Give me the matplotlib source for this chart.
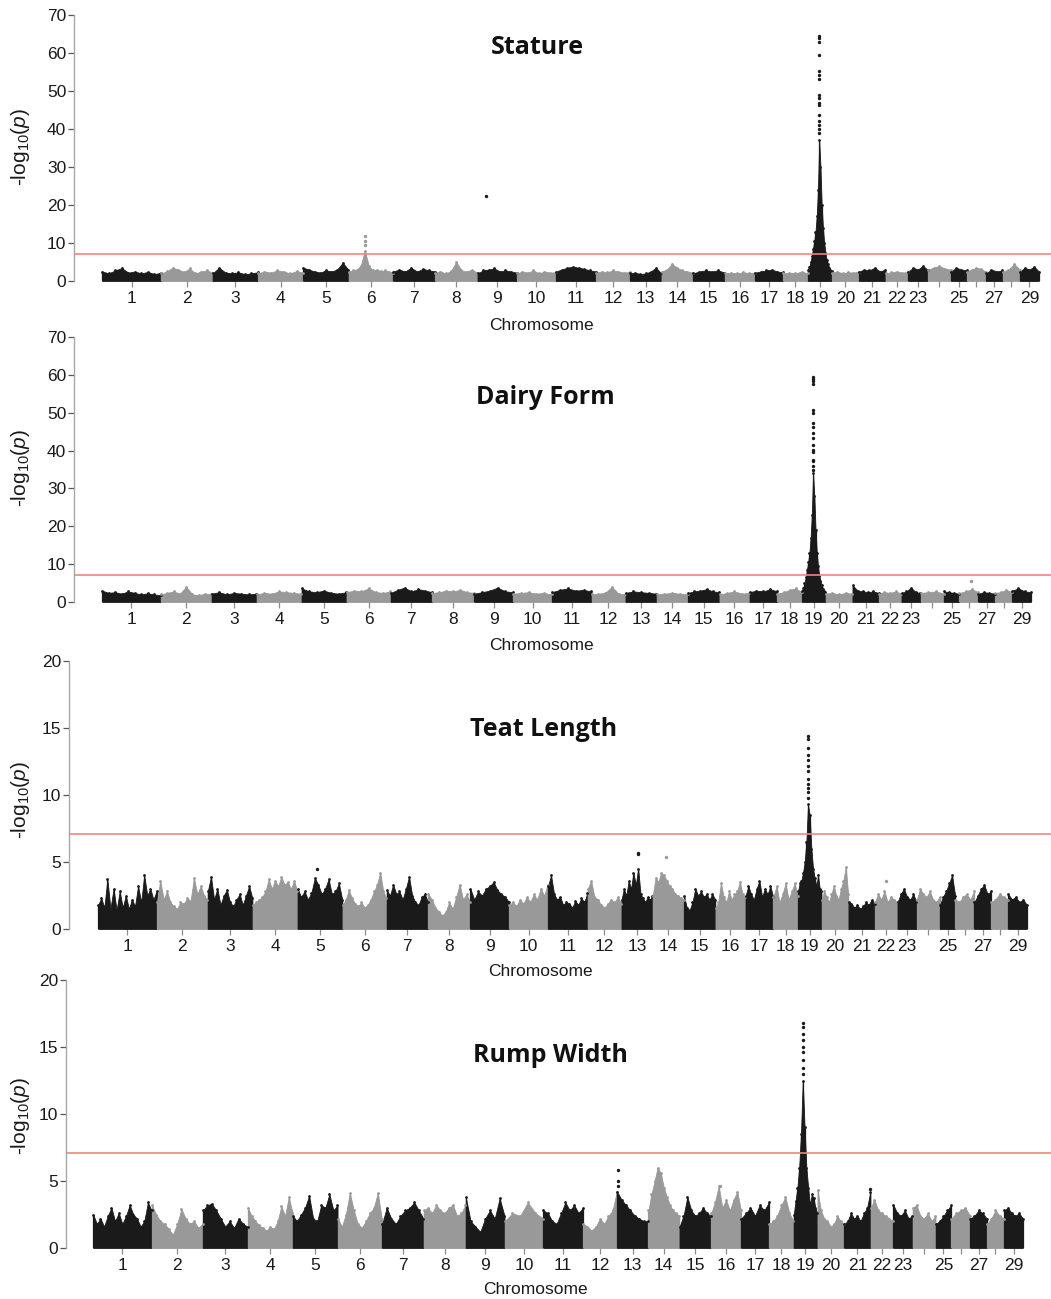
#!/usr/bin/env python3
"""Manhattan plots for four conformation traits (Stature, Dairy Form, Teat Length, Rump Width)."""

import matplotlib

matplotlib.use("Agg")
import matplotlib.pyplot as plt
import numpy as np

W, H = 1051, 1299
BLACK = "#1a1a1a"
GRAY = "#999999"
RED = "#F0857D"
SPINE = "#a8a8a8"

CHROMS = list(range(1, 30))
# chromosome lengths in Mb (UMD3.1)
CHROM_LEN = [158, 137, 121, 121, 121, 119, 112, 113, 105, 104, 107, 91, 84, 84, 85,
             81, 75, 66, 64, 72, 71, 61, 52, 62, 42, 51, 45, 46, 51]
HIDDEN_LABELS = {24, 26, 28}
THRESHOLD = 7.08

# upper envelope of -log10(p) along each chromosome, read left to right
STATURE = [
    [2.5, 2.0, 2.8, 3.4, 2.2, 2.5, 2.0, 2.4, 1.8, 2.2],
    [2.0, 2.6, 3.5, 3.0, 2.4, 3.3, 2.0, 2.5, 2.8, 2.2],
    [2.0, 3.5, 2.2, 2.0, 2.3, 1.8, 2.0, 2.3],
    [2.0, 2.5, 2.2, 2.8, 2.5, 2.0, 2.6, 2.2],
    [3.5, 3.0, 2.5, 2.2, 2.8, 2.5, 3.0, 4.8, 3.0],
    [2.5, 2.8, 3.0, 4.0, 8.0, 4.0, 2.8, 3.0, 2.6, 2.8, 2.5, 2.2],
    [2.5, 3.0, 2.5, 3.5, 2.5, 3.2, 2.8, 2.5],
    [2.2, 2.5, 2.0, 2.6, 5.0, 2.8, 2.5, 3.0, 2.2],
    [2.0, 2.8, 3.0, 3.3, 2.5, 2.8, 2.5, 2.2],
    [2.0, 2.5, 2.2, 2.8, 2.0, 2.5, 2.2, 2.3],
    [2.5, 3.0, 3.5, 3.8, 3.5, 3.2, 2.8, 2.5],
    [2.2, 2.5, 2.3, 2.8, 2.5, 2.2, 2.4],
    [2.0, 2.2, 1.8, 2.0, 2.5, 3.5, 2.0],
    [2.5, 3.0, 4.5, 3.5, 2.8, 2.5, 2.2],
    [2.0, 2.5, 2.8, 2.5, 2.8, 2.2],
    [2.0, 2.2, 2.0, 2.3, 2.1, 2.2],
    [2.2, 2.5, 2.8, 3.0, 2.5, 2.3],
    [2.0, 2.2, 2.0, 2.5, 2.0],
    [3.0, 3.8, 5.0, 6.5, 8.5, 10.5, 13.0, 17.0, 24.0, 37.0, 30.0, 20.0, 14.0, 10.0, 7.5, 5.5,
     4.5, 3.5, 3.0, 2.6],
    [2.2, 2.5, 2.0, 2.3, 2.2, 2.5],
    [2.5, 3.0, 2.8, 3.5, 2.5, 3.0],
    [2.0, 2.3, 2.5, 2.2, 2.4],
    [2.5, 3.5, 3.0, 4.0, 3.0],
    [3.0, 3.5, 4.0, 3.2, 3.0],
    [2.5, 3.5, 3.0, 2.8],
    [2.5, 3.0, 3.5, 3.2, 2.5],
    [2.0, 3.0, 2.5, 2.8],
    [2.5, 3.0, 4.5, 3.0],
    [2.5, 3.5, 3.0, 3.8, 2.5],
]
# isolated SNPs: (chromosome, relative position, -log10 p)
STATURE_HITS = [(6, 0.36, 11.8), (6, 0.36, 10.6), (6, 0.36, 9.6), (9, 0.22, 22.5)] + [
    (19, 0.47, v) for v in [64.5, 64.0, 63.0, 59.5, 55.3, 54.2, 53.1, 49.0, 48.2,
                            46.8, 46.3, 43.7, 42.0, 41.0, 40.0, 39.0]
]

DAIRY_FORM = [
    [3.0, 2.4, 2.6, 2.2, 2.8, 2.4, 2.0, 2.3, 2.0, 1.8],
    [2.0, 2.4, 2.8, 2.2, 4.0, 2.0, 1.8, 2.2, 2.0],
    [2.2, 2.6, 2.0, 2.4, 2.2, 2.0, 2.2],
    [2.0, 2.4, 2.2, 2.8, 2.6, 2.4, 2.2],
    [3.6, 2.8, 2.6, 3.0, 2.4, 2.2, 2.6],
    [2.6, 3.0, 2.8, 3.6, 2.6, 2.4, 2.8],
    [2.4, 3.2, 3.8, 2.8, 3.4, 3.0, 2.6],
    [2.4, 2.6, 3.0, 2.8, 3.2, 2.6, 2.4],
    [2.2, 2.6, 3.0, 3.8, 2.8, 2.6],
    [2.2, 2.4, 2.6, 2.2, 2.4, 2.0],
    [2.6, 3.2, 3.6, 3.0, 3.2, 2.8],
    [2.0, 2.2, 2.4, 4.0, 2.2, 2.0],
    [2.4, 2.8, 2.6, 2.4, 2.2],
    [2.0, 2.2, 2.4, 2.2, 2.0],
    [2.4, 2.8, 3.0, 3.4, 2.8, 2.6],
    [2.0, 2.4, 2.8, 2.2, 2.4],
    [2.6, 3.0, 2.8, 3.4, 2.8],
    [2.2, 2.6, 3.2, 3.6, 2.6],
    [3.0, 3.8, 5.0, 6.5, 8.5, 10.5, 13.0, 17.0, 23.0, 34.0, 28.0, 19.0, 13.0, 9.5, 7.0, 5.5,
     4.5, 3.5, 3.0, 2.6],
    [2.2, 2.4, 2.0, 2.4, 2.2],
    [4.4, 3.0, 2.8, 2.6, 2.8, 2.4],
    [2.2, 2.6, 2.4, 2.8, 2.2],
    [2.4, 2.8, 3.8, 2.6, 2.4],
    [2.4, 2.6, 2.8, 2.2],
    [2.8, 2.6, 2.4, 2.2],
    [2.4, 2.8, 3.4, 2.6],
    [2.2, 2.6, 2.4, 2.2],
    [2.4, 2.6, 3.2, 2.6],
    [3.0, 3.6, 2.8, 2.6],
]
DAIRY_FORM_HITS = [(26, 0.6, 5.5)] + [
    (19, 0.47, v) for v in [59.5, 59.0, 58.4, 57.5, 50.7, 49.9, 47.3, 46.3, 44.6,
                            43.3, 41.5, 40.1, 39.6, 37.5, 37.2, 36.0, 35.0]
]

TEAT_LENGTH = [
    [1.8, 2.3, 1.6, 3.7, 1.5, 3.0, 1.4, 2.8, 1.6, 2.5, 1.5, 2.2, 1.7, 3.2, 2.0, 4.0, 2.5, 3.0, 2.2, 2.8],
    [2.0, 3.6, 2.2, 2.8, 2.0, 1.7, 1.5, 2.0, 1.9, 2.3, 2.1, 3.8, 2.6, 3.2, 2.5, 2.2],
    [2.8, 3.9, 2.2, 3.0, 1.8, 2.5, 2.9, 2.0, 1.7, 2.2, 2.6, 1.8, 2.5, 3.2, 2.3],
    [1.8, 2.0, 2.2, 2.4, 2.8, 3.7, 3.0, 3.6, 3.2, 3.9, 3.3, 3.5, 3.0, 3.6, 2.8],
    [3.0, 2.4, 2.8, 2.2, 2.7, 3.8, 3.3, 2.6, 3.0, 3.7, 2.6, 2.8, 3.4, 2.2],
    [1.8, 2.2, 2.9, 2.3, 1.9, 1.7, 2.0, 1.6, 1.8, 2.2, 2.8, 3.3, 4.2, 2.8, 2.3],
    [2.9, 2.5, 3.3, 2.6, 2.8, 2.2, 3.0, 3.9, 2.5, 2.0, 1.8, 2.4, 2.6, 2.0],
    [2.6, 2.2, 1.6, 1.3, 1.0, 1.3, 2.0, 1.5, 2.4, 3.3, 2.2, 2.6, 2.0],
    [3.0, 2.2, 2.8, 2.5, 3.0, 3.2, 3.5, 2.9, 2.6, 2.4, 2.0],
    [1.8, 2.0, 1.7, 2.2, 1.9, 2.4, 2.0, 2.6, 2.2, 3.0, 2.5, 3.3],
    [3.2, 4.0, 2.6, 2.2, 2.4, 1.8, 2.0, 1.9, 1.6, 2.1, 1.8, 2.3, 2.0, 2.7],
    [3.0, 3.6, 2.4, 2.2, 1.8, 1.6, 1.9, 2.2, 2.0, 2.4, 1.9],
    [2.2, 3.0, 2.5, 3.6, 3.0, 4.2, 3.3, 4.5, 2.6, 2.3, 2.0, 2.4, 2.2, 2.5],
    [2.5, 3.8, 3.5, 4.2, 4.0, 3.6, 3.2, 3.0, 2.6, 2.5, 2.3, 2.2],
    [2.5, 1.6, 1.4, 2.0, 3.0, 2.5, 2.8, 2.4, 2.6, 2.2, 2.6, 2.2],
    [1.6, 2.0, 3.4, 2.4, 2.0, 2.8, 2.2, 2.6, 2.8, 3.5, 2.6, 2.4],
    [2.5, 3.2, 2.6, 2.2, 3.0, 3.6, 2.4, 3.0, 2.6, 3.2, 2.4],
    [2.4, 3.2, 2.0, 2.6, 3.4, 2.2, 2.8, 3.4, 2.5],
    [2.8, 3.4, 3.6, 4.2, 5.0, 6.5, 9.3, 8.5, 6.0, 4.5, 3.8, 3.2, 4.0, 3.0, 2.8],
    [2.2, 2.8, 2.4, 2.0, 2.6, 3.2, 2.5, 2.2, 3.0, 3.6, 4.6, 2.6],
    [2.0, 1.9, 1.6, 1.8, 1.5, 1.7, 2.0, 1.8, 2.2, 1.9],
    [2.0, 2.6, 2.2, 2.8, 2.0, 2.4, 2.2, 2.0],
    [2.0, 2.6, 3.0, 2.4, 2.2, 2.6, 2.0],
    [2.2, 3.0, 2.6, 2.4, 2.8, 2.2, 2.0, 2.4],
    [1.8, 2.4, 2.8, 3.4, 4.0, 2.5],
    [2.2, 2.0, 2.4, 2.6, 2.2, 2.8],
    [2.0, 2.5, 3.0, 3.3, 2.6, 2.8],
    [2.0, 2.2, 2.6, 2.4, 2.2],
    [2.6, 2.2, 2.4, 2.0, 2.2, 1.8],
]
TEAT_LENGTH_HITS = [(5, 0.44, 4.5), (13, 0.52, 5.7), (13, 0.52, 5.6), (14, 0.43, 5.4),
                    (22, 0.5, 3.6)] + [
    (19, 0.43, v) for v in [14.4, 14.2, 13.5, 13.0, 12.6, 12.2, 11.8, 11.2, 10.8, 10.5, 10.2, 9.8]
]

RUMP_WIDTH = [
    [2.5, 1.8, 2.2, 1.6, 2.4, 3.0, 2.0, 2.6, 1.8, 2.4, 3.2, 2.5, 2.2, 1.6, 2.0, 3.4, 2.8],
    [3.2, 2.5, 2.0, 1.8, 1.4, 1.0, 1.8, 2.9, 2.2, 1.8, 2.0, 1.5, 1.8],
    [2.8, 3.2, 3.3, 2.8, 2.2, 1.6, 2.0, 1.5, 2.2, 1.8, 1.6],
    [3.0, 2.4, 2.0, 1.7, 1.5, 1.3, 1.6, 1.4, 2.0, 3.1, 2.4, 3.8, 2.6],
    [2.4, 2.0, 2.5, 3.0, 3.9, 2.2, 2.0, 3.2, 3.0, 4.0, 2.8, 3.2],
    [2.2, 1.6, 2.5, 4.1, 2.8, 1.8, 1.5, 2.0, 2.6, 3.0, 4.1, 2.2],
    [1.8, 3.0, 2.2, 1.8, 2.4, 2.8, 3.0, 3.4, 2.8, 2.2],
    [2.8, 3.0, 2.6, 3.2, 2.8, 2.6, 3.0, 3.2, 2.4, 2.6, 3.2],
    [3.8, 2.0, 1.6, 1.2, 2.2, 2.8, 2.2, 3.7, 2.4],
    [2.0, 2.6, 2.4, 3.4, 2.6, 2.2],
    [2.8, 2.6, 2.0, 1.8, 2.6, 3.4, 2.8, 3.2, 2.6, 3.0],
    [1.8, 1.6, 1.3, 1.6, 2.2, 1.8, 2.4, 2.8, 4.2],
    [4.2, 3.6, 3.2, 2.8, 2.4, 2.2, 2.0, 2.0],
    [2.8, 4.0, 5.0, 6.0, 5.6, 4.5, 3.8, 3.2, 2.8, 2.6, 2.4],
    [1.6, 2.4, 3.8, 2.8, 2.4, 2.6, 3.0, 2.6, 2.4],
    [2.6, 3.4, 4.6, 3.0, 3.6, 2.8, 3.6, 4.2, 2.8],
    [2.2, 2.6, 3.0, 2.4, 3.2, 2.8, 3.4],
    [1.8, 2.0, 2.4, 3.2, 3.8, 2.6, 2.0],
    [2.5, 3.5, 4.5, 6.0, 8.5, 12.5, 9.0, 6.0, 4.5, 3.2, 4.0, 3.7, 3.0, 2.6],
    [4.3, 2.8, 2.2, 2.0, 1.6, 1.8, 2.4, 2.0, 1.8],
    [1.8, 2.0, 2.6, 2.2, 2.4, 2.0, 2.6, 3.0, 4.2],
    [3.0, 3.6, 2.8, 2.6, 2.4, 2.2, 2.0],
    [3.2, 2.6, 2.4, 2.8, 2.2, 2.4],
    [3.0, 3.2, 2.4, 2.2, 2.6, 2.0, 2.4],
    [1.8, 2.0, 2.4, 2.8, 3.2],
    [2.2, 2.6, 2.8, 3.0, 2.4],
    [2.2, 2.4, 2.8, 2.6, 2.2],
    [1.8, 2.2, 2.8, 2.4, 2.2],
    [2.8, 3.0, 2.6, 2.4, 2.6, 2.2],
]
RUMP_WIDTH_HITS = [(13, 0.04, 5.8), (13, 0.04, 5.0), (13, 0.04, 4.6), (21, 0.98, 4.4),
                   (16, 0.3, 4.6)] + [
    (19, 0.38, v) for v in [16.8, 16.5, 16.0, 15.5, 15.0, 14.6, 14.0, 13.4, 13.0]
]

# title, profile, hits, ymax, ystep
PANELS = [
    ("Stature", STATURE, STATURE_HITS, 70, 10),
    ("Dairy Form", DAIRY_FORM, DAIRY_FORM_HITS, 70, 10),
    ("Teat Length", TEAT_LENGTH, TEAT_LENGTH_HITS, 20, 5),
    ("Rump Width", RUMP_WIDTH, RUMP_WIDTH_HITS, 20, 5),
]

# pixel layout: axis x, data start, data end, y of 0, y of top, title xy, xlabel xy, ylabel y
LAYOUT = [
    dict(axis=74, start=102, end=1039, y0=281, y1=15, title=(537, 47), xlab=(541, 325), ylab=147),
    dict(axis=74, start=102, end=1031, y0=602, y1=337, title=(545, 397), xlab=(541, 646), ylab=468),
    dict(axis=69, start=98, end=1027, y0=929, y1=661, title=(544, 730), xlab=(540, 971), ylab=800),
    dict(axis=66, start=93, end=1023, y0=1248, y1=980, title=(550, 1056), xlab=(535, 1290), ylab=1116),
]


def set_style():
    plt.rcParams.update({
        "font.family": ["Liberation Sans", "DejaVu Sans"],
        "mathtext.fontset": "custom",
        "mathtext.rm": "Liberation Sans",
        "mathtext.it": "Liberation Sans:italic",
    })


def fx(px):
    return px / W


def fy(py):
    return 1 - py / H


def draw_panel(fig, title, profile, hits, ymax, ystep, lay):
    starts = np.concatenate([[0], np.cumsum(CHROM_LEN)[:-1]])
    total = sum(CHROM_LEN)
    k = (lay["end"] - lay["start"]) / total
    xmin = -(lay["start"] - lay["axis"]) / k
    xmax = total + (W - lay["end"]) / k

    ax = fig.add_axes([fx(lay["axis"]), fy(lay["y0"]), 1 - fx(lay["axis"]),
                       (lay["y0"] - lay["y1"]) / H])
    ax.set_xlim(xmin, xmax)
    ax.set_ylim(0, ymax)

    for i, (start, length, heights) in enumerate(zip(starts, CHROM_LEN, profile)):
        color = BLACK if i % 2 == 0 else GRAY
        x = np.linspace(start + 0.5, start + length - 0.5, len(heights))
        ax.fill_between(x, 0, heights, color=color, edgecolor=color, lw=0.6, zorder=2)
        ax.vlines(x, 0, heights, color=color, lw=0.9, zorder=2)
        ax.scatter(x, heights, s=4, color=color, lw=0, zorder=3)

    for chrom, rel, val in hits:
        i = chrom - 1
        color = BLACK if i % 2 == 0 else GRAY
        ax.scatter(starts[i] + rel * CHROM_LEN[i], val, s=6, color=color, lw=0, zorder=3)

    ax.axhline(THRESHOLD, color=RED, lw=1.2, zorder=4)

    centers = starts + np.array(CHROM_LEN) / 2
    ax.set_xticks(centers)
    ax.set_xticklabels(["" if c in HIDDEN_LABELS else str(c) for c in CHROMS], fontsize=12.5)
    ax.tick_params(axis="x", length=4, width=0.9, color="#8c8c8c", pad=3, labelcolor=BLACK)
    ax.set_yticks(np.arange(0, ymax + 1, ystep))
    ax.tick_params(axis="y", length=4.5, width=0.9, color="#555555", pad=1,
                   labelsize=12.5, labelcolor=BLACK)

    for side in ("top", "right", "bottom"):
        ax.spines[side].set_visible(False)
    ax.spines["left"].set_color(SPINE)
    ax.spines["left"].set_linewidth(1.0)

    fig.text(fx(lay["title"][0]), fy(lay["title"][1]), title, ha="center", va="center",
             fontsize=18, fontweight="bold", family="Open Sans", color="#111111")
    fig.text(fx(lay["xlab"][0]), fy(lay["xlab"][1]), "Chromosome", ha="center",
             va="center", fontsize=12.5, color=BLACK)
    fig.text(fx(21), fy(lay["ylab"]), r"-log$_{10}$($\mathit{p}$)", ha="center",
             va="center", rotation=90, fontsize=15, color=BLACK)


def main():
    set_style()
    fig = plt.figure(figsize=(W / 100, H / 100), dpi=100)
    for (title, profile, hits, ymax, ystep), lay in zip(PANELS, LAYOUT):
        draw_panel(fig, title, profile, hits, ymax, ystep, lay)
    fig.savefig("out.png", dpi=100)


if __name__ == "__main__":
    main()
